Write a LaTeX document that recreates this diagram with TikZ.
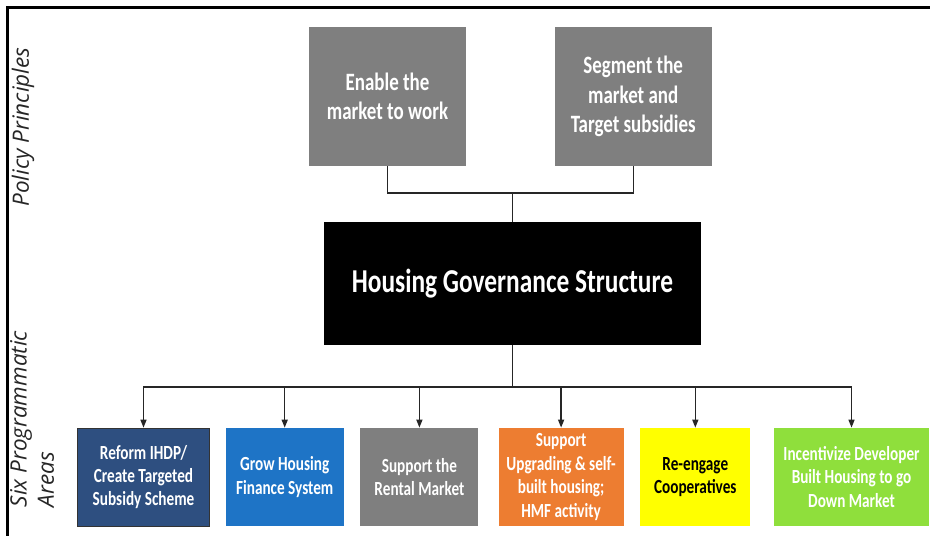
\documentclass[tikz,border=0pt]{standalone}
\usepackage{fontspec}
\setmainfont{Carlito}[FakeStretch=0.76]
\newfontfamily\sidefont{Open Sans}
\usetikzlibrary{arrows.meta, positioning}

\definecolor{boxgrey}{HTML}{7F7F7F}
\definecolor{navyblue}{HTML}{2E4F80}
\definecolor{midblue}{HTML}{1E74C6}
\definecolor{boxorange}{HTML}{ED7D31}
\definecolor{boxyellow}{HTML}{FFFF00}
\definecolor{boxgreen}{HTML}{8FDF3C}

\tikzset{
  principle/.style={rectangle, fill=boxgrey, text=white, minimum width=31.4mm, minimum height=27.8mm, align=center, font=\fontsize{14.2}{16.6}\selectfont\bfseries},
  core/.style={rectangle, fill=black, text=white, minimum width=75.2mm, minimum height=24.6mm, align=center, font=\fontsize{19}{22}\selectfont\bfseries},
  area/.style={rectangle, text=white, minimum height=19.6mm, align=center, inner sep=1pt, font=\fontsize{11.4}{13.3}\selectfont\bfseries},
  sidelabel/.style={rotate=90, text=black!85, font=\sidefont\itshape\fontsize{12.8}{15.5}\selectfont},
  link/.style={draw=black!85, line width=0.8pt},
  arrow/.style={link, -{Triangle[length=1.6mm, width=1.2mm]}},
}

\begin{document}
\begin{tikzpicture}[x=0.2mm, y=-0.2mm]
\useasboundingbox (0,0) rectangle (930,536);
% frame
\draw[line width=0.6mm] (930,7) -| (7,536);

% side headings
\node[sidelabel] (policy) at (23,127) {Policy Principles};
\node[sidelabel, align=left] (programmes) at (32,419) {Six Programmatic\\Areas};

% principles and governance
\node[principle] (enable) at (387.5,96.5) {Enable the\\market to work};
\node[principle, right=17.6mm of enable] (segment) {Segment the\\market and\\Target subsidies};
\node[core] (hgs) at (512.5,283.5) {Housing Governance Structure};

% programmatic areas
\node[area, fill=navyblue, draw=black!80, minimum width=26.4mm] (reform) at (143.5,477) {Reform IHDP/\\Create Targeted\\Subsidy Scheme};
\node[area, fill=midblue, minimum width=23.6mm, right=3.1mm of reform] (finance) {Grow Housing\\Finance System};
\node[area, fill=boxgrey, minimum width=23.6mm, right=3.2mm of finance] (rental) {Support the\\Rental Market};
\node[area, fill=boxorange, minimum width=25mm, right=3.9mm of rental] (upgrade) {Support\\Upgrading \& self-\\built housing;\\HMF activity};
\node[area, fill=boxyellow, text=black, minimum width=22mm, right=3.2mm of upgrade] (coop) {Re-engage\\Cooperatives};
\node[area, fill=boxgreen, minimum width=31mm, right=4.6mm of coop] (developer) {Incentivize Developer\\Built Housing to go\\Down Market};

\coordinate (join) at (512.5,193);
\coordinate (bus) at (512.5,387);

\draw[link] (enable) |- (join) -| (segment);
\draw[link] (join) -- (hgs);
\draw[link] (hgs) -- (bus);
\foreach \n in {reform,finance,rental,upgrade,coop,developer}
  \draw[arrow] (bus) -| (\n);
\end{tikzpicture}
\end{document}
